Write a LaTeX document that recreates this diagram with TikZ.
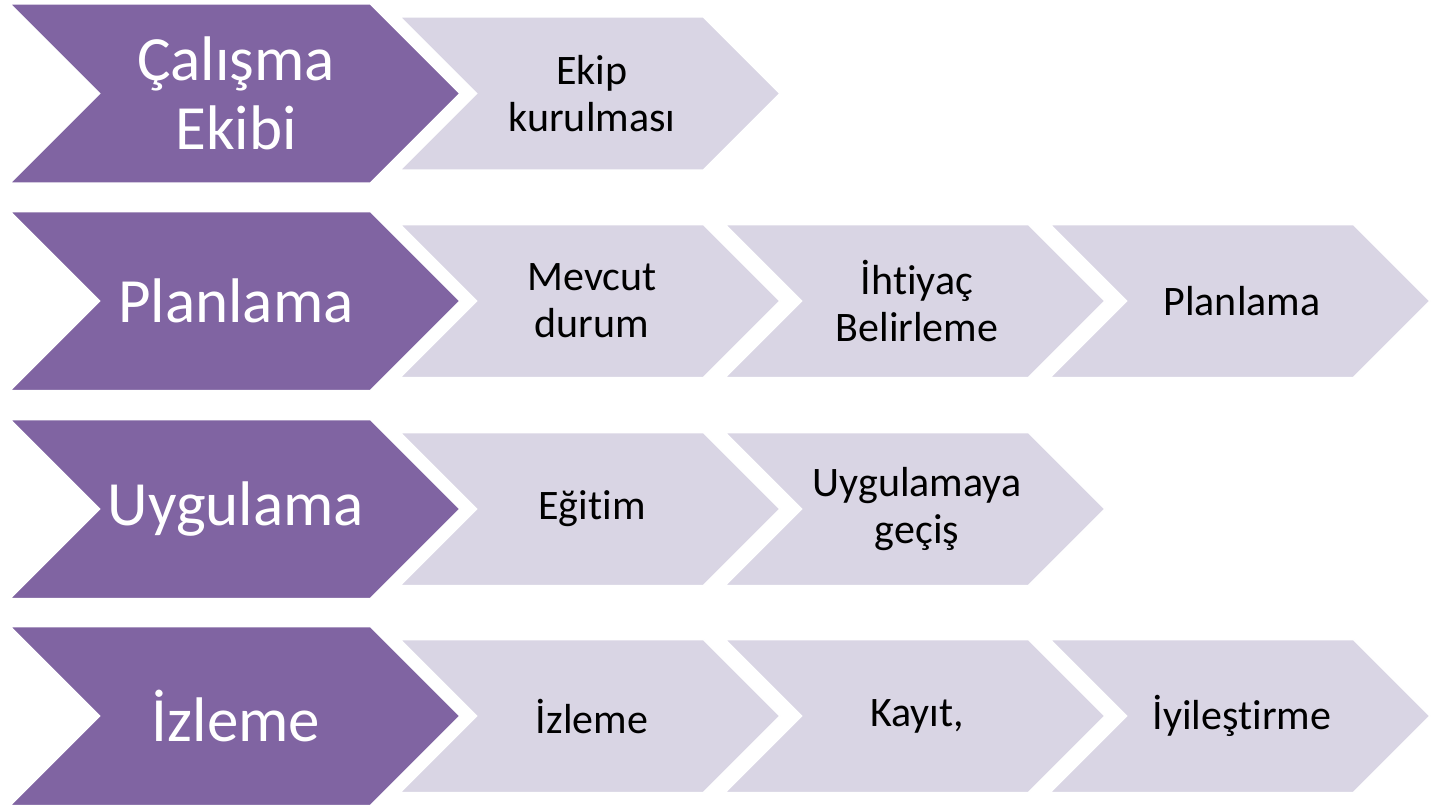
\documentclass[tikz,border=0pt]{standalone}
\usepackage{fontspec}
\setmainfont[Ligatures=NoCommon]{Carlito}
\usepackage{tikz}

\definecolor{phasepurple}{HTML}{8064A2}
\definecolor{tasklilac}{HTML}{D9D5E4}

\begin{document}
\begin{tikzpicture}[x=1pt, y=-1pt,
    phase/.style={fill=phasepurple, draw=white, line width=1.5pt},
    task/.style={fill=tasklilac, draw=white, line width=1.5pt},
    phasetext/.style={text=white, align=center, font=\fontsize{63}{69}\selectfont},
    tasktext/.style={text=black, align=center, font=\fontsize{42}{47}\selectfont}]
    \useasboundingbox (0,0) rectangle (1431,808);

    % Phase chevrons
    \foreach \c/\name/\txt in {93.5/calisma/{Çalışma\\Ekibi}, 301/planlama/Planlama,
                               509/uygulama/Uygulama, 716/izleme/İzleme} {
        \filldraw[phase] (10,\c-89.5) -- (370.5,\c-89.5) -- (460,\c) -- (370.5,\c+89.5)
            -- (10,\c+89.5) -- (99.5,\c) -- cycle;
        \node[phasetext] (\name) at (236,\c) {\txt};
    }

    % Task chevrons
    \foreach \c/\k/\name/\txt [evaluate=\k as \lx using 400+325*\k] in
        {93.5/0/ekip/{Ekip\\kurulması},
         301/0/mevcut/{Mevcut\\durum}, 301/1/ihtiyac/{İhtiyaç\\Belirleme}, 301/2/plan/Planlama,
         509/0/egitim/Eğitim, 509/1/gecis/{Uygulamaya\\geçiş},
         716/0/izle/İzleme, 716/1/kayit/{Kayıt,}, 716/2/iyilestirme/İyileştirme} {
        \filldraw[task] (\lx,\c-76.5) -- (\lx+303.5,\c-76.5) -- (\lx+380,\c) -- (\lx+303.5,\c+76.5)
            -- (\lx,\c+76.5) -- (\lx+76.5,\c) -- cycle;
        \node[tasktext] (\name) at (\lx+192,\c) {\txt};
    }
\end{tikzpicture}
\end{document}
